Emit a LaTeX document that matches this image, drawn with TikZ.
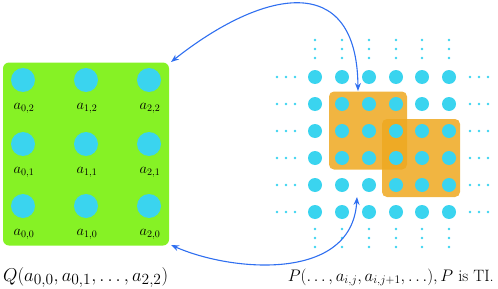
\documentclass[tikz,border=0pt]{standalone}
\usetikzlibrary{arrows.meta}
\definecolor{lime}{HTML}{86F225}
\definecolor{dotc}{HTML}{3AD4EF}
\definecolor{orng}{HTML}{EEA820}
\definecolor{arr}{HTML}{2F6FF0}
\begin{document}
\begin{tikzpicture}[x=1pt,y=-1pt,
  bigdot/.style={circle,fill=dotc,inner sep=0pt,minimum size=24pt},
  gdot/.style={circle,fill=dotc,inner sep=0pt,minimum size=14pt},
  sdot/.style={circle,fill=dotc,inner sep=0pt,minimum size=2.6pt},
  lab/.style={font=\fontsize{14.5}{16}\selectfont,inner sep=0pt,anchor=base},
  orbox/.style={fill=orng,fill opacity=0.85,rounded corners=5pt,inner sep=0pt,minimum size=78pt},
  conn/.style={draw=arr,line width=1.1pt,{Stealth[length=8pt,width=6pt]}-{Stealth[length=8pt,width=6pt]}}]
\useasboundingbox (0,0) rectangle (498,289);
% green panel
\node[fill=lime,rounded corners=6pt,minimum width=166pt,minimum height=183pt,inner sep=0pt] (Q) at (86,154) {};
\foreach \i/\x in {0/23,1/86,2/149}{
  \foreach \j/\y in {2/80,1/144,0/206}{
    \node[bigdot] (q\i\j) at (\x,\y) {};
    \node[lab] (ql\i\j) at (\x+1,\y+29) {$a_{\i,\j}$};
  }
}
% orange boxes
\node[orbox] (o1) at (368,130.5) {};
\node[orbox] (o2) at (421,158) {};
% grid
\foreach \c/\x in {1/315,2/342,3/369,4/396,5/422,6/449}{
  \foreach \r/\y in {1/77,2/104,3/131,4/158,5/185,6/212}{
    \node[gdot] (g\c\r) at (\x,\y) {};
  }
  \foreach \k/\y in {1/40,2/49,3/58,4/229,5/238,6/247}{
    \node[sdot] (v\c\k) at (\x,\y) {};
  }
}
\foreach \r/\y in {1/77,2/104,3/131,4/158,5/185,6/212}{
  \foreach \k/\x in {1/277,2/286,3/295,4/470,5/479,6/488}{
    \node[sdot] (h\r\k) at (\x,\y) {};
  }
}
% connectors
\coordinate (qa) at (171,62);
\coordinate (qb) at (171,245);
\coordinate (pa) at (358,91);
\coordinate (pb) at (357,197);
\draw[conn] (qa) .. controls (262,-10) and (357,-31) .. (pa);
\draw[conn] (qb) .. controls (232,272) and (352,282) .. (pb);
% formulas
\node[anchor=base west,inner sep=0pt] (fq) at (3,281) {\resizebox{165pt}{!}{\fontsize{19}{22}\selectfont$Q(a_{0,0},a_{0,1},\ldots,a_{2,2})$}};
\node[anchor=base east,inner sep=0pt] (fp) at (494,281) {\resizebox{206pt}{!}{\fontsize{17}{20}\selectfont$P(\ldots,a_{i,j},a_{i,j+1},\ldots),P$ is TI.}};
\end{tikzpicture}
\end{document}
